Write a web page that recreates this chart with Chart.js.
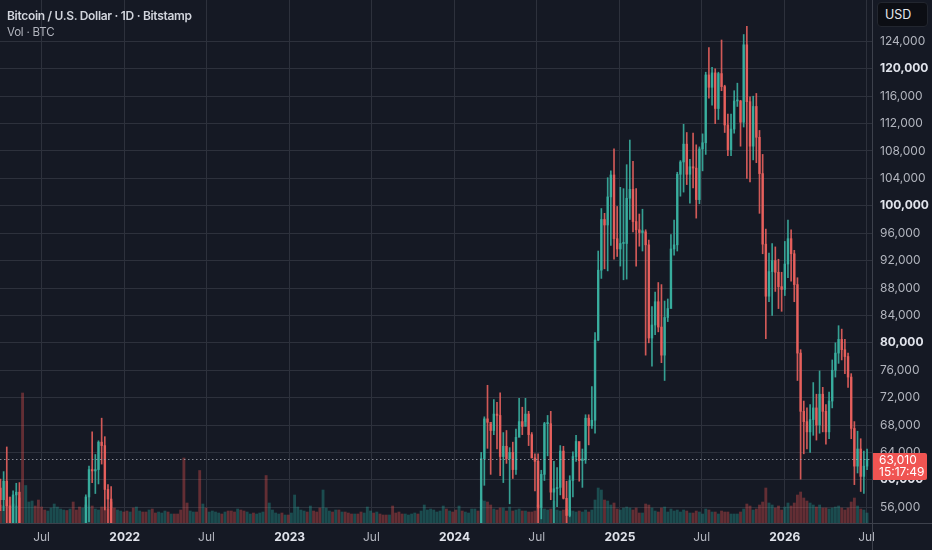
<!DOCTYPE html>
<html>
<head>
<meta charset="utf-8">
<script src="https://cdn.jsdelivr.net/npm/chart.js@4.4.1/dist/chart.umd.min.js"></script>
<style>
  html, body { margin:0; padding:0; background:#151924; }
  #wrap { position:relative; width:932px; height:550px; overflow:hidden; background:#151924; }
  canvas { position:absolute; left:0; top:0; }
  .title { position:absolute; left:7px; top:8px; font:600 12px Inter, "Noto Sans", sans-serif; letter-spacing:-0.3px; color:#d1d4dc; white-space:nowrap; }
  .sub { position:absolute; left:7px; top:25px; font:400 11.5px Inter, "Noto Sans", sans-serif; letter-spacing:-0.2px; color:#b2b5be; white-space:nowrap; }
  .usd { position:absolute; left:877px; top:2px; width:51px; height:25px; box-sizing:border-box; border-radius:4px;
         background:#0c0e14; border:1px solid #22262f; font:400 12.5px Inter, "Noto Sans", sans-serif; color:#e6e8ee;
         line-height:23px; padding-left:7px; }
</style>
</head>
<body>
<div id="wrap">
  <canvas id="c" width="932" height="550"></canvas>
  <div class="title">Bitcoin / U.S. Dollar · 1D · Bitstamp</div>
  <div class="sub">Vol · BTC</div>
  <div class="usd">USD</div>
</div>
<script>
// ---------------- DATA (weekly candles, prices in thousands USD) ----------------
const firstWeekStart = '2021-03-29';
const firstOpen = 58.8;

const closeK = [
  // 2021 (from 29 Mar)
  57.1, 59.8, 56.2, 49.1, 57.8, 58.2, 46.5, 34.7, 35.7, 35.8,
  39.1, 35.5, 34.7, 34.2, 31.4, 31.6, 35.4, 39.9, 44.4, 47.0,
  49.3, 47.1, 51.8, 48.3, 47.3, 43.2, 49.3, 57.5, 61.5, 61.3,
  61.5, 65.5, 65.0, 58.6, 57.2, 49.4, 46.7, 46.8, 50.8, 46.3,
  // 2022
  41.9, 43.1, 36.3, 38.5, 42.4, 42.2, 38.4, 39.1, 38.4, 37.8,
  42.2, 44.5, 46.4, 40.4, 40.4, 39.5, 38.5, 34.0, 31.3, 29.4,
  29.4, 29.9, 26.6, 20.6, 21.0, 19.3, 20.8, 20.8, 22.6, 23.3,
  23.2, 24.4, 21.5, 20.0, 19.8, 21.8, 19.4, 18.8, 19.4, 19.4,
  19.2, 19.6, 20.6, 21.1, 16.3, 16.3, 16.5, 17.1, 17.1, 16.8,
  16.8, 16.6,
  // 2023
  17.1, 20.9, 22.7, 23.0, 23.3, 21.8, 24.6, 23.6, 22.2, 22.1,
  27.5, 27.5, 28.5, 28.3, 30.3, 27.6, 29.2, 28.9, 26.9, 26.7,
  28.1, 27.1, 25.9, 26.3, 30.5, 30.6, 30.2, 30.3, 29.8, 29.3,
  29.0, 29.3, 26.1, 26.0, 25.9, 25.8, 26.5, 26.6, 27.9, 27.9,
  27.1, 30.0, 34.5, 35.0, 37.1, 37.4, 37.4, 39.5, 43.8, 41.4,
  43.0, 42.3,
  // 2024
  41.7, 42.8, 41.6, 42.0, 42.6, 48.3, 52.1, 51.7, 63.1, 68.9,
  68.4, 67.2, 69.6, 69.4, 63.4, 64.9, 63.1, 64.0, 61.5, 66.2,
  68.5, 67.8, 69.6, 66.6, 63.2, 62.7, 55.9, 60.8, 68.2, 68.2,
  58.2, 58.7, 58.9, 64.2, 57.3, 54.8, 59.9, 63.4, 65.6, 62.8,
  62.9, 69.0, 67.9, 68.7, 80.4, 90.6, 98.0, 97.2, 101.3, 104.5,
  95.2, 93.7,
  // 2025
  94.5, 94.5, 101.1, 102.4, 97.7, 96.5, 96.1, 96.2, 94.3, 80.7,
  82.6, 86.0, 82.3, 78.2, 83.7, 85.0, 93.7, 94.3, 104.6, 106.4,
  109.0, 104.6, 105.7, 105.5, 100.9, 108.3, 109.2, 119.1, 117.3, 119.4,
  114.2, 119.3, 117.4, 111.8, 108.2, 111.2, 115.3, 115.3, 112.2, 123.5,
  115.2, 108.7, 114.5, 110.0, 104.7, 94.4, 86.8, 90.4,
  92.0, 90.3, 88.2, 87.8,
  // 2026
  91.5, 95.2, 93.0, 88.5, 78.5, 70.0, 68.5, 67.0, 68.8, 70.5,
  68.0, 72.5, 70.0, 67.0, 71.5, 76.0, 78.5, 80.5, 79.0, 78.0,
  75.0, 67.5, 62.0, 64.5, 60.5, 62.0, 63.01
];

const highK = [
  60.1, 61.2, 64.8, 57.5, 58.4, 59.5, 59.6, 46.6, 40.9, 39.4,
  40.1, 41.3, 36.5, 36.5, 35.1, 34.6, 35.8, 42.6, 46.5, 48.1,
  49.8, 50.5, 52.9, 52.9, 48.8, 45.0, 49.5, 57.8, 62.0, 67.0,
  63.7, 65.7, 69.0, 66.3, 59.3, 59.0, 51.9, 49.5, 51.8, 52.0,
  47.5, 44.4, 43.5, 38.9, 44.5, 45.8, 44.7, 40.0, 45.4, 42.6,
  42.3, 45.0, 48.2, 47.0, 42.4, 42.9, 40.8, 40.0, 35.0, 31.3,
  30.7, 32.2, 31.6, 28.3, 22.0, 21.8, 22.4, 22.0, 24.3, 24.6,
  24.2, 25.2, 25.0, 21.8, 20.5, 22.8, 22.7, 19.7, 20.3, 20.5,
  19.7, 19.7, 21.0, 21.5, 21.5, 17.2, 16.8, 17.4, 17.4, 18.4,
  17.0, 17.0,
  17.4, 21.2, 23.3, 23.8, 24.2, 23.5, 25.2, 25.3, 23.9, 22.6,
  28.5, 29.2, 29.2, 28.8, 30.9, 30.5, 30.0, 29.8, 28.8, 27.6,
  28.4, 28.4, 27.4, 27.0, 31.4, 31.4, 31.5, 31.8, 30.3, 30.0,
  30.2, 30.4, 29.7, 26.8, 28.2, 26.4, 27.5, 27.4, 28.6, 28.6,
  28.0, 30.3, 35.2, 36.0, 38.0, 37.9, 38.4, 40.2, 44.7, 43.4,
  44.3, 43.8,
  45.9, 49.0, 43.6, 42.8, 43.9, 48.9, 52.8, 52.9, 64.0, 69.2,
  73.8, 68.1, 71.7, 71.3, 72.7, 66.9, 67.2, 64.7, 65.5, 67.4,
  71.9, 70.6, 71.9, 70.0, 66.9, 63.8, 63.8, 61.4, 68.4, 69.4,
  70.0, 62.7, 61.8, 65.0, 64.9, 59.8, 60.6, 64.1, 66.5, 65.5,
  64.5, 69.5, 69.5, 73.6, 81.5, 93.4, 99.6, 98.9, 104.1, 105.1,
  108.3, 99.9,
  102.7, 102.5, 106.0, 109.6, 106.5, 102.5, 98.8, 99.5, 96.5, 95.0,
  85.3, 87.4, 88.8, 88.5, 86.1, 86.4, 95.8, 97.9, 104.9, 106.6,
  111.9, 110.7, 106.8, 110.6, 108.9, 108.6, 110.5, 119.5, 123.1, 120.2,
  120.0, 119.5, 124.2, 117.6, 113.4, 113.4, 116.8, 117.9, 115.4, 125.0,
  126.2, 115.9, 116.0, 116.4, 111.0, 107.5, 96.6, 93.1,
  94.5, 94.0, 92.2, 90.3,
  94.8, 97.9, 96.5, 93.5, 89.5, 79.0, 71.5, 70.5, 71.0, 74.2,
  72.5, 75.9, 73.5, 71.0, 72.8, 77.5, 80.0, 82.5, 82.0, 80.5,
  78.5, 75.5, 68.5, 67.1, 66.0, 64.2, 64.5
];

const lowK = [
  55.5, 55.5, 51.5, 47.0, 48.8, 53.0, 43.8, 30.0, 31.0, 34.8,
  31.0, 34.8, 28.8, 32.7, 31.1, 29.3, 29.2, 36.4, 37.5, 42.8,
  43.9, 46.4, 46.6, 42.8, 44.7, 39.8, 40.9, 47.1, 53.9, 59.6,
  58.0, 59.4, 62.3, 55.6, 53.3, 42.0, 45.8, 45.6, 45.6, 45.6,
  40.6, 39.6, 34.9, 33.0, 36.3, 41.7, 37.7, 34.3, 37.2, 37.2,
  37.6, 40.5, 44.4, 39.2, 39.2, 38.6, 37.7, 33.7, 25.4, 28.7,
  28.0, 29.3, 26.6, 17.6, 19.6, 18.7, 19.0, 19.2, 20.8, 20.7,
  22.7, 22.7, 21.4, 19.5, 19.5, 18.5, 18.3, 18.2, 18.2, 19.1,
  18.2, 18.7, 19.2, 20.1, 15.5, 15.8, 15.4, 16.0, 16.7, 16.3,
  16.3, 16.4,
  16.5, 17.1, 20.5, 22.3, 22.7, 21.4, 21.4, 23.2, 21.9, 19.6,
  21.8, 26.6, 26.6, 27.2, 27.7, 27.1, 27.1, 26.8, 26.2, 25.9,
  26.1, 26.6, 25.3, 24.8, 26.2, 29.5, 29.8, 29.7, 29.5, 28.9,
  28.8, 28.8, 25.2, 25.4, 25.4, 25.4, 24.9, 26.4, 26.0, 26.9,
  26.6, 26.9, 29.8, 33.4, 34.1, 35.0, 35.7, 37.2, 39.0, 40.5,
  40.5, 41.5,
  40.7, 41.5, 40.2, 38.5, 41.8, 42.5, 48.0, 50.6, 50.9, 59.2,
  64.6, 60.8, 66.6, 64.5, 60.6, 59.6, 62.4, 56.5, 60.2, 60.8,
  66.3, 66.6, 68.5, 65.0, 63.2, 58.4, 53.5, 54.3, 59.9, 63.5,
  57.1, 49.0, 56.1, 57.8, 57.2, 52.5, 54.6, 57.5, 62.7, 59.8,
  58.9, 62.4, 65.1, 67.5, 66.8, 80.3, 89.4, 90.8, 90.5, 94.2,
  92.2, 92.6,
  91.2, 89.2, 89.3, 98.0, 96.2, 91.2, 94.1, 93.4, 78.2, 80.0,
  76.6, 81.2, 81.6, 77.1, 74.5, 83.1, 85.1, 92.8, 93.4, 101.4,
  102.0, 103.1, 100.4, 102.6, 98.2, 100.3, 105.1, 107.5, 115.7, 114.7,
  112.0, 112.6, 116.8, 110.7, 107.3, 107.3, 110.6, 114.5, 108.7, 111.5,
  104.0, 103.5, 106.7, 106.3, 98.9, 93.0, 80.6, 86.0,
  84.0, 87.5, 85.0, 84.6,
  86.9, 89.5, 89.0, 86.0, 74.5, 60.1, 63.8, 64.5, 64.0, 66.5,
  65.8, 66.8, 67.0, 65.2, 66.0, 70.5, 75.0, 77.0, 77.5, 75.5,
  73.5, 66.0, 59.3, 61.0, 58.3, 58.0, 61.5
];

// peak daily volume per week, thousands of BTC
const volumeK = [
  3.6, 3.4, 4.6, 5.2, 3.8, 3.4, 5.0, 26.0, 7.5, 4.2,
  4.4, 3.4, 4.6, 3.2, 2.6, 2.4, 3.0, 3.8, 3.2, 2.8,
  2.6, 2.5, 2.8, 4.2, 2.6, 3.2, 3.0, 3.6, 3.2, 3.4,
  2.8, 2.6, 3.2, 3.2, 2.8, 4.2, 3.0, 2.6, 2.4, 2.2,
  2.4, 2.2, 3.0, 3.2, 2.4, 2.2, 2.2, 2.6, 2.8, 2.0,
  2.2, 2.0, 2.4, 2.2, 1.8, 1.8, 1.8, 2.6, 13.0, 4.0,
  2.4, 2.2, 2.2, 10.5, 3.8, 3.0, 2.2, 2.4, 2.2, 2.0,
  1.8, 2.2, 2.4, 2.4, 2.2, 2.8, 2.6, 2.4, 2.2, 1.8,
  2.0, 1.8, 2.0, 2.2, 9.5, 4.0, 2.6, 2.0, 1.8, 2.0,
  1.6, 1.6,
  2.0, 5.6, 3.2, 2.6, 2.4, 2.2, 3.4, 2.4, 2.2, 3.0,
  6.6, 3.0, 2.4, 2.2, 2.6, 2.6, 2.2, 2.2, 2.0, 1.8,
  1.8, 1.8, 2.2, 2.0, 3.2, 2.4, 2.0, 2.2, 1.8, 1.6,
  1.6, 1.6, 3.4, 2.0, 2.2, 1.8, 1.8, 1.6, 1.8, 2.0,
  1.8, 2.4, 3.6, 2.6, 2.8, 2.6, 2.2, 2.4, 3.4, 2.8,
  2.4, 2.2,
  2.6, 3.4, 2.4, 2.2, 2.0, 2.8, 2.8, 2.4, 4.6, 4.4,
  4.2, 3.6, 2.8, 2.6, 3.0, 3.0, 2.4, 3.2, 2.4, 2.6,
  2.8, 2.4, 2.4, 2.2, 2.2, 2.4, 3.6, 2.8, 2.8, 2.6,
  2.8, 4.4, 2.6, 2.4, 2.6, 2.8, 2.6, 2.4, 2.2, 2.4,
  2.2, 2.6, 2.2, 2.6, 4.6, 7.0, 6.6, 4.6, 4.4, 3.6,
  4.0, 2.8,
  2.6, 3.0, 3.2, 3.0, 2.6, 3.0, 2.0, 2.0, 3.8, 3.6,
  3.0, 2.4, 2.2, 3.0, 3.2, 2.2, 2.8, 2.4, 2.6, 2.2,
  2.6, 2.4, 2.0, 2.0, 2.4, 2.2, 1.8, 2.8, 2.6, 2.2,
  2.2, 1.8, 2.4, 2.2, 2.2, 1.8, 1.8, 1.8, 2.2, 2.8,
  3.8, 3.4, 2.6, 2.8, 3.6, 4.2, 7.0, 4.0,
  3.6, 3.0, 3.4, 2.6,
  3.2, 4.0, 3.4, 4.0, 5.6, 6.2, 5.0, 4.4, 4.0, 3.6,
  3.2, 3.6, 3.0, 3.0, 2.8, 3.0, 3.2, 3.4, 3.0, 2.6,
  3.0, 4.2, 5.0, 3.4, 2.8, 2.6, 2.0
];

const xTickDates  = ['2021-07-01','2022-01-01','2022-07-01','2023-01-01','2023-07-01','2024-01-01',
                     '2024-07-01','2025-01-01','2025-07-01','2026-01-01','2026-07-01'];
const xTickLabels = ['Jul','2022','Jul','2023','Jul','2024','Jul','2025','Jul','2026','Jul'];
const yTickValues = [56000,60000,64000,68000,72000,76000,80000,84000,88000,92000,96000,
                     100000,104000,108000,112000,116000,120000,124000];
const boldYTicks  = [60000, 80000, 100000, 120000];
const countdown   = '15:17:49';
const xRange = ['2021-03-31', '2026-07-13'];   // visible time window
const yRange = [53700, 130040];                // visible price window

// ---------------- helpers ----------------
const UP = 'rgba(58,178,162,0.88)', DOWN = 'rgba(236,98,94,0.88)';
const UPV = 'rgba(38,166,154,0.36)', DOWNV = 'rgba(239,83,80,0.36)';
const FONT = 'Inter, "Noto Sans", sans-serif';
const dayNum = s => { const [y,m,d] = s.split('-').map(Number); return (Date.UTC(y,m-1,d) - Date.UTC(2022,0,1)) / 86400000; };
const start = dayNum(firstWeekStart);

const wicks = [], bodies = [], vols = [], upFlags = [];
for (let i = 0; i < closeK.length; i++) {
  const x = start + 7*i + 3;
  const o = (i === 0 ? firstOpen : closeK[i-1]) * 1000;
  const c = closeK[i] * 1000;
  const up = c >= o;
  upFlags.push(up);
  wicks.push({x, y:[lowK[i]*1000, highK[i]*1000]});
  bodies.push({x, y:[Math.min(o,c), Math.max(o,c) + (Math.abs(o-c) < 150 ? 150 : 0)]});
  vols.push({x, y: volumeK[i]});
}
const lastClose = closeK[closeK.length-1] * 1000;
const xTickVals = xTickDates.map(dayNum);
const isYear = v => { const l = xTickLabels[xTickVals.indexOf(v)]; return l && l !== 'Jul'; };

const decor = {
  id: 'tvDecor',
  afterDraw(chart) {
    const {ctx, chartArea, scales} = chart;
    const y = scales.y.getPixelForValue(lastClose);
    ctx.save();
    ctx.strokeStyle = 'rgba(170,174,184,0.75)';
    ctx.lineWidth = 1;
    ctx.setLineDash([1.5, 2.5]);
    ctx.beginPath();
    ctx.moveTo(chartArea.left, Math.round(y) + 0.5);
    ctx.lineTo(chartArea.right, Math.round(y) + 0.5);
    ctx.stroke();
    ctx.setLineDash([]);
    ctx.strokeStyle = '#3d414c';
    ctx.beginPath();
    ctx.moveTo(chartArea.right + 0.5, 0);
    ctx.lineTo(chartArea.right + 0.5, chart.height);
    ctx.moveTo(0, chartArea.bottom + 0.5);
    ctx.lineTo(chart.width, chartArea.bottom + 0.5);
    ctx.stroke();
    const bx = chartArea.right + 1, by = Math.round(y) - 6;
    ctx.fillStyle = '#f05452';
    ctx.beginPath();
    ctx.roundRect(bx, by, 54, 27, [0, 2, 2, 0]);
    ctx.fill();
    ctx.fillStyle = '#ffffff';
    ctx.font = '12px ' + FONT;
    ctx.textBaseline = 'middle';
    ctx.textAlign = 'left';
    ctx.fillText(lastClose.toLocaleString('en-US', {maximumFractionDigits:0}), bx + 6, by + 7);
    ctx.fillText(countdown, bx + 6, by + 19.5);
    ctx.restore();
  }
};

new Chart(document.getElementById('c'), {
  type: 'bar',
  data: {
    datasets: [
      { label: 'Vol', data: vols, yAxisID: 'yVol', order: 3, barThickness: 2.2,
        backgroundColor: upFlags.map(u => u ? UPV : DOWNV) },
      { label: 'wick', data: wicks, yAxisID: 'y', order: 2, barThickness: 1,
        backgroundColor: upFlags.map(u => u ? UP : DOWN) },
      { label: 'body', data: bodies, yAxisID: 'y', order: 1, barThickness: 1.8,
        backgroundColor: upFlags.map(u => u ? UP : DOWN) }
    ]
  },
  options: {
    responsive: false,
    animation: false,
    devicePixelRatio: 1,
    layout: { padding: 0 },
    datasets: { bar: { grouped: false, borderWidth: 0, borderSkipped: false } },
    plugins: { legend: { display: false }, tooltip: { enabled: false } },
    scales: {
      x: {
        type: 'linear', offset: false, min: dayNum(xRange[0]), max: dayNum(xRange[1]),
        grid: { color: '#2d313c', drawTicks: false, lineWidth: 1, offset: false },
        border: { display: false },
        afterBuildTicks: s => { s.ticks = xTickVals.map(v => ({value: v})); },
        afterFit: s => { s.height = 27; s.paddingLeft = 0; s.paddingRight = 0; s.paddingTop = 0; s.paddingBottom = 0; },
        ticks: {
          padding: 7, maxRotation: 0, autoSkip: false,
          callback: v => xTickLabels[xTickVals.indexOf(v)],
          font: ctx => ({ family: FONT, size: 12, weight: (ctx.tick && isYear(ctx.tick.value)) ? '700' : '400' }),
          color: ctx => (ctx.tick && isYear(ctx.tick.value)) ? '#e0e3eb' : '#b2b5be'
        }
      },
      y: {
        position: 'right', min: yRange[0], max: yRange[1],
        grid: { color: '#2d313c', drawTicks: false },
        border: { display: false },
        afterBuildTicks: s => { s.ticks = yTickValues.map(v => ({value: v})); },
        afterFit: s => { s.width = 60; s.paddingTop = 0; s.paddingBottom = 0; s.paddingLeft = 0; s.paddingRight = 0; },
        ticks: {
          padding: 8, crossAlign: 'near',
          callback: v => v.toLocaleString('en-US'),
          font: ctx => ({ family: FONT, size: 12, weight: (ctx.tick && boldYTicks.includes(ctx.tick.value)) ? '700' : '400' }),
          color: ctx => (ctx.tick && boldYTicks.includes(ctx.tick.value)) ? '#e0e3eb' : '#b2b5be'
        }
      },
      yVol: { display: false, min: 0, max: 104.6 }
    }
  },
  plugins: [decor]
});
</script>
</body>
</html>
